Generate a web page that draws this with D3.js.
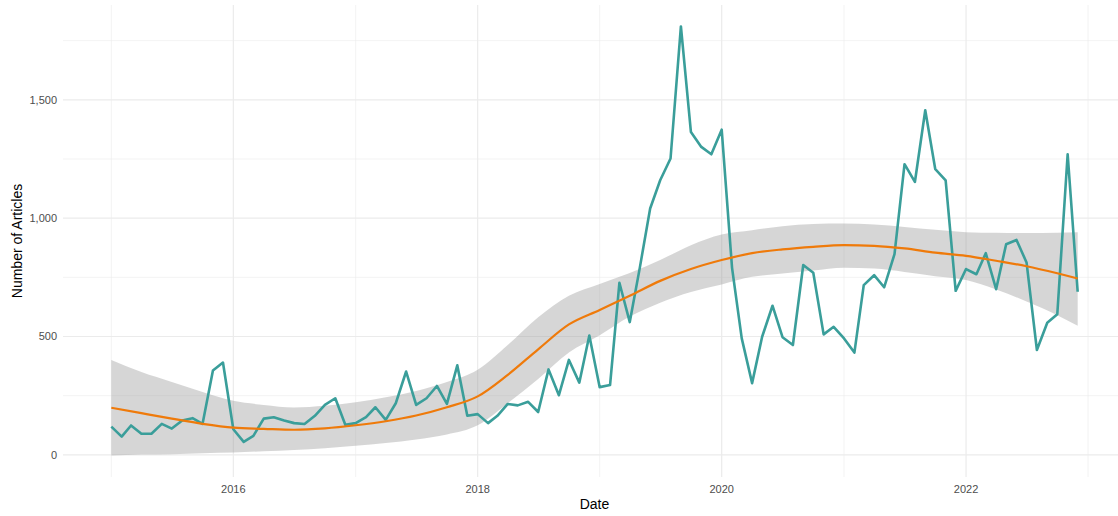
<!DOCTYPE html>
<html><head><meta charset="utf-8">
<script src="https://cdn.jsdelivr.net/npm/d3@7"></script>
<style>body{margin:0;background:#fff;overflow:hidden}svg{display:block}</style>
</head><body><svg id="c" width="1118" height="516"></svg>
<script>
// Monthly article counts, Jan 2015 .. Dec 2022
const articles = [
  119, 77, 124, 89, 89, 131, 111, 145, 155, 131, 356, 390,
  108, 55, 80, 153, 159, 145, 134, 130, 165, 211, 239, 127,
  134, 159, 201, 148, 218, 352, 211, 239, 291, 215, 378, 165,
  172, 134, 165, 215, 209, 224, 181, 361, 252, 401, 305, 504,
  286, 295, 727, 561, 790, 1041, 1160, 1252, 1810, 1364, 1301, 1270,
  1374, 790, 492, 303, 499, 630, 497, 464, 802, 769, 509, 541,
  492, 432, 717, 759, 708, 848, 1228, 1153, 1456, 1207, 1160, 693,
  785, 763, 852, 700, 890, 908, 813, 443, 558, 594, 1270, 689
];
const startMonth = "2015-01-01";
const endMonth = "2022-12-01";

// Smoothed trend (loess) with confidence band
const smoothDates = [
  "2015-01-01","2015-04-01","2015-07-01","2015-10-01",
  "2016-01-01","2016-04-01","2016-07-01","2016-10-01",
  "2017-01-01","2017-04-01","2017-07-01","2017-10-01",
  "2018-01-01","2018-04-01","2018-07-01","2018-10-01",
  "2019-01-01","2019-04-01","2019-07-01","2019-10-01",
  "2020-01-01","2020-04-01","2020-07-01","2020-10-01",
  "2021-01-01","2021-04-01","2021-07-01","2021-10-01",
  "2022-01-01","2022-04-01","2022-07-01","2022-10-01","2022-12-01"
];
const smoothFit = [
  199, 176, 153, 131,
  115, 110, 106, 112,
  125, 142, 166, 201,
  247, 338, 446, 551,
  612, 672, 735, 785,
  823, 852, 868, 879,
  886, 883, 872, 854,
  841, 820, 797, 767, 745
];
const smoothUpper = [
  401, 350, 308, 266,
  228, 211, 200, 207,
  222, 243, 270, 308,
  360, 464, 581, 672,
  722, 768, 823, 886,
  931, 949, 966, 975,
  977, 973, 963, 951,
  941, 938, 937, 938, 940
];
const smoothLower = [
  -3, 1, 3, 7,
  10, 15, 20, 28,
  38, 50, 65, 86,
  125, 218, 320, 432,
  505, 584, 643, 688,
  720, 752, 766, 779,
  791, 787, 773, 755,
  739, 699, 648, 590, 545
];

const yMajor = [0, 500, 1000, 1500];
const yMinor = [250, 750, 1250, 1750];
const xMajorYears = [2016, 2018, 2020, 2022];
const xMinorYears = [2015, 2017, 2019, 2021, 2023];

const svg = d3.select("#c");
const panel = {left: 63, right: 1126, top: 5, bottom: 477};

const months = d3.utcMonth.range(new Date(startMonth), d3.utcMonth.offset(new Date(endMonth), 1));
const series = months.map((d, i) => ({date: d, value: articles[i]}));
const band = smoothDates.map((d, i) => ({date: new Date(d), fit: smoothFit[i], lo: smoothLower[i], hi: smoothUpper[i]}));

const t0 = months[0], t1 = months[months.length - 1];
const xpad = (t1 - t0) * 0.05;
const x = d3.scaleUtc()
  .domain([new Date(+t0 - xpad), new Date(+t1 + xpad)])
  .range([panel.left, panel.right]);

const ymin = Math.min(d3.min(articles), d3.min(smoothLower));
const ymax = Math.max(d3.max(articles), d3.max(smoothUpper));
const ypad = (ymax - ymin) * 0.05;
const y = d3.scaleLinear()
  .domain([ymin - ypad, ymax + ypad])
  .range([panel.bottom, panel.top]);

const grid = svg.append("g");
const gridColor = "#ebebeb";
yMinor.forEach(v => grid.append("line")
  .attr("x1", panel.left).attr("x2", panel.right)
  .attr("y1", y(v)).attr("y2", y(v))
  .attr("stroke", gridColor).attr("stroke-width", 0.6));
xMinorYears.forEach(yr => { const d = new Date(Date.UTC(yr, 0, 1)); grid.append("line")
  .attr("y1", panel.top).attr("y2", panel.bottom)
  .attr("x1", x(d)).attr("x2", x(d))
  .attr("stroke", gridColor).attr("stroke-width", 0.6); });
yMajor.forEach(v => grid.append("line")
  .attr("x1", panel.left).attr("x2", panel.right)
  .attr("y1", y(v)).attr("y2", y(v))
  .attr("stroke", gridColor).attr("stroke-width", 1.2));
xMajorYears.forEach(yr => { const d = new Date(Date.UTC(yr, 0, 1)); grid.append("line")
  .attr("y1", panel.top).attr("y2", panel.bottom)
  .attr("x1", x(d)).attr("x2", x(d))
  .attr("stroke", gridColor).attr("stroke-width", 1.2); });

// confidence ribbon
svg.append("path")
  .datum(band)
  .attr("fill", "#999999").attr("fill-opacity", 0.4)
  .attr("d", d3.area().curve(d3.curveMonotoneX)
    .x(d => x(d.date)).y0(d => y(d.lo)).y1(d => y(d.hi)));

// observed series
svg.append("path")
  .datum(series)
  .attr("fill", "none").attr("stroke", "#3a9e9a").attr("stroke-width", 2.6)
  .attr("stroke-linejoin", "round")
  .attr("d", d3.line().x(d => x(d.date)).y(d => y(d.value)));

// smoothed trend
svg.append("path")
  .datum(band)
  .attr("fill", "none").attr("stroke", "#ef7a0a").attr("stroke-width", 2.2)
  .attr("d", d3.line().curve(d3.curveMonotoneX).x(d => x(d.date)).y(d => y(d.fit)));

// axes labels
const font = "'Liberation Sans', Arial, Helvetica, sans-serif";
const fmt = d3.format(",");
svg.append("g").selectAll("text").data(yMajor).join("text")
  .attr("x", panel.left - 6).attr("y", d => y(d)).attr("dy", "0.35em")
  .attr("text-anchor", "end").attr("font-family", font).attr("font-size", 11)
  .attr("fill", "#4d4d4d").text(d => fmt(d));
svg.append("g").selectAll("text").data(xMajorYears).join("text")
  .attr("x", d => x(new Date(Date.UTC(d, 0, 1)))).attr("y", 493)
  .attr("text-anchor", "middle").attr("font-family", font).attr("font-size", 11)
  .attr("fill", "#4d4d4d").text(d => d);
svg.append("text")
  .attr("x", (panel.left + panel.right) / 2).attr("y", 509)
  .attr("text-anchor", "middle").attr("font-family", font).attr("font-size", 14)
  .attr("fill", "#000").text("Date");
svg.append("text")
  .attr("transform", `translate(22,${(panel.top + panel.bottom) / 2}) rotate(-90)`)
  .attr("text-anchor", "middle").attr("font-family", font).attr("font-size", 14)
  .attr("fill", "#000").text("Number of Articles");
</script></body></html>
